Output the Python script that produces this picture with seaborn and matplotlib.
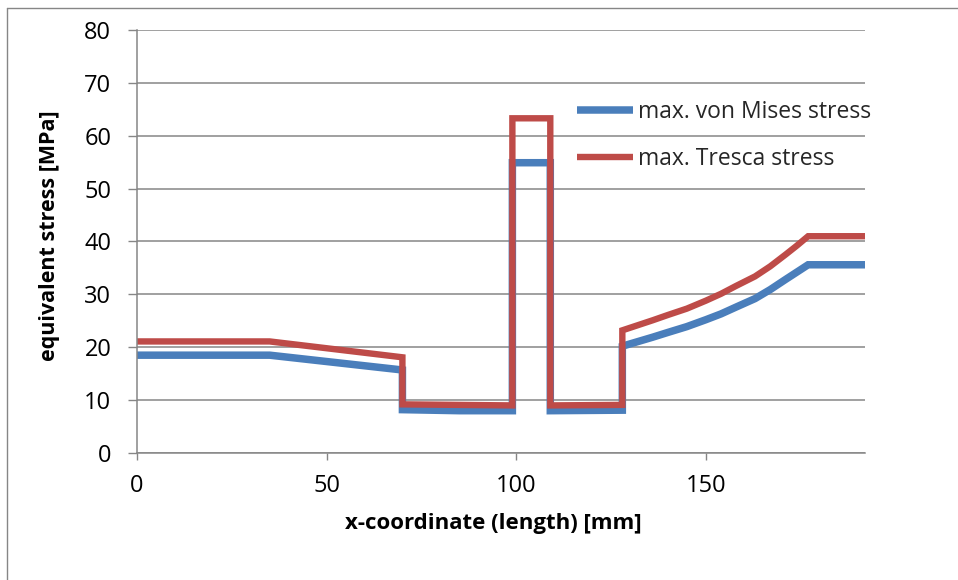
import matplotlib
matplotlib.use("Agg")
import matplotlib.pyplot as plt
import seaborn as sns
import pandas as pd
from matplotlib.lines import Line2D

# ---- data ----
x_mises = [0, 35, 70, 70, 85, 99, 99, 109, 109, 128, 128, 136, 140, 145, 150, 154, 158, 163, 167, 171, 174, 177, 192]
y_mises = [18.5, 18.5, 15.7, 8.2, 8.0, 8.0, 54.9, 54.9, 8.0, 8.1, 20.2, 21.9, 22.8, 23.9, 25.2, 26.3, 27.6, 29.2, 30.9, 32.8, 34.2, 35.6, 35.6]

x_tresca = [0, 35, 70, 70, 99, 99, 109, 109, 128, 128, 136, 140, 145, 150, 154, 158, 163, 167, 171, 174, 177, 192]
y_tresca = [21.1, 21.1, 18.1, 9.2, 9.0, 63.3, 63.3, 9.0, 9.1, 23.2, 25.1, 26.1, 27.3, 28.8, 30.1, 31.6, 33.4, 35.3, 37.5, 39.2, 41.0, 41.0]

series_names = ["max. von Mises stress", "max. Tresca stress"]
x_ticks = [0, 50, 100, 150]
y_ticks = [0, 10, 20, 30, 40, 50, 60, 70, 80]
x_label = "x-coordinate (length) [mm]"
y_label = "equivalent stress [MPa]"

sns.set_theme(style="white")
plt.rcParams['font.family'] = ['Open Sans', 'DejaVu Sans']

W, H = 958, 580
fig = plt.figure(figsize=(W / 100, H / 100), dpi=100)
ax = fig.add_axes([137 / W, 1 - 453 / H, (865 - 137) / W, (453 - 30) / H])

df_m = pd.DataFrame({"x": x_mises, "y": y_mises})
df_t = pd.DataFrame({"x": x_tresca, "y": y_tresca})

sns.lineplot(data=df_m, x="x", y="y", ax=ax, sort=False, estimator=None,
             color="#4A7EBB", linewidth=5.4, label=series_names[0])
sns.lineplot(data=df_t, x="x", y="y", ax=ax, sort=False, estimator=None,
             color="#BE4B48", linewidth=4.6, label=series_names[1])
for ln in ax.get_lines():
    ln.set_solid_joinstyle("miter")
    ln.set_solid_capstyle("butt")

ax.set_xlim(0, 192)
ax.set_ylim(0, 80)
ax.set_xticks(x_ticks)
ax.set_yticks(y_ticks)
ax.yaxis.grid(True, color="#868686", linewidth=1.1)
ax.xaxis.grid(False)
ax.set_axisbelow(True)
for s in ["top", "right"]:
    ax.spines[s].set_visible(False)
for s in ["left", "bottom"]:
    ax.spines[s].set_color("#868686")
    ax.spines[s].set_linewidth(1.1)
ax.tick_params(axis="y", direction="out", length=6.5, width=1, color="#868686",
               labelsize=17, pad=12, labelcolor="black", left=True)
ax.tick_params(axis="x", direction="out", length=5.2, width=1, color="#868686",
               labelsize=17, pad=10, labelcolor="black", bottom=True)

ax.set_xlabel(x_label, fontweight="bold", fontsize=16, color="black")
ax.set_ylabel(y_label, fontweight="bold", fontsize=15.5, color="black")
ax.xaxis.set_label_coords((493 - 137) / 728, (453 - 523) / 423)
ax.xaxis.label.set_va("center")
ax.yaxis.set_label_coords((50 - 137) / 728, (453 - 236) / 423)
ax.yaxis.label.set_va("center")

ax.legend(loc="center left", bbox_to_anchor=(577 / W, 1 - 135.5 / H),
          bbox_transform=fig.transFigure, frameon=False, fontsize=16.5,
          handlelength=2.45, handletextpad=0.2, labelspacing=0.98,
          borderpad=0, borderaxespad=0)

# outer chart frame
fig.add_artist(Line2D([7 / W, 7 / W], [0, 1 - 8 / H], transform=fig.transFigure,
                      color="#868686", linewidth=1))
fig.add_artist(Line2D([7 / W, 1], [1 - 8 / H, 1 - 8 / H], transform=fig.transFigure,
                      color="#868686", linewidth=1))

fig.savefig("out.png", dpi=100)
